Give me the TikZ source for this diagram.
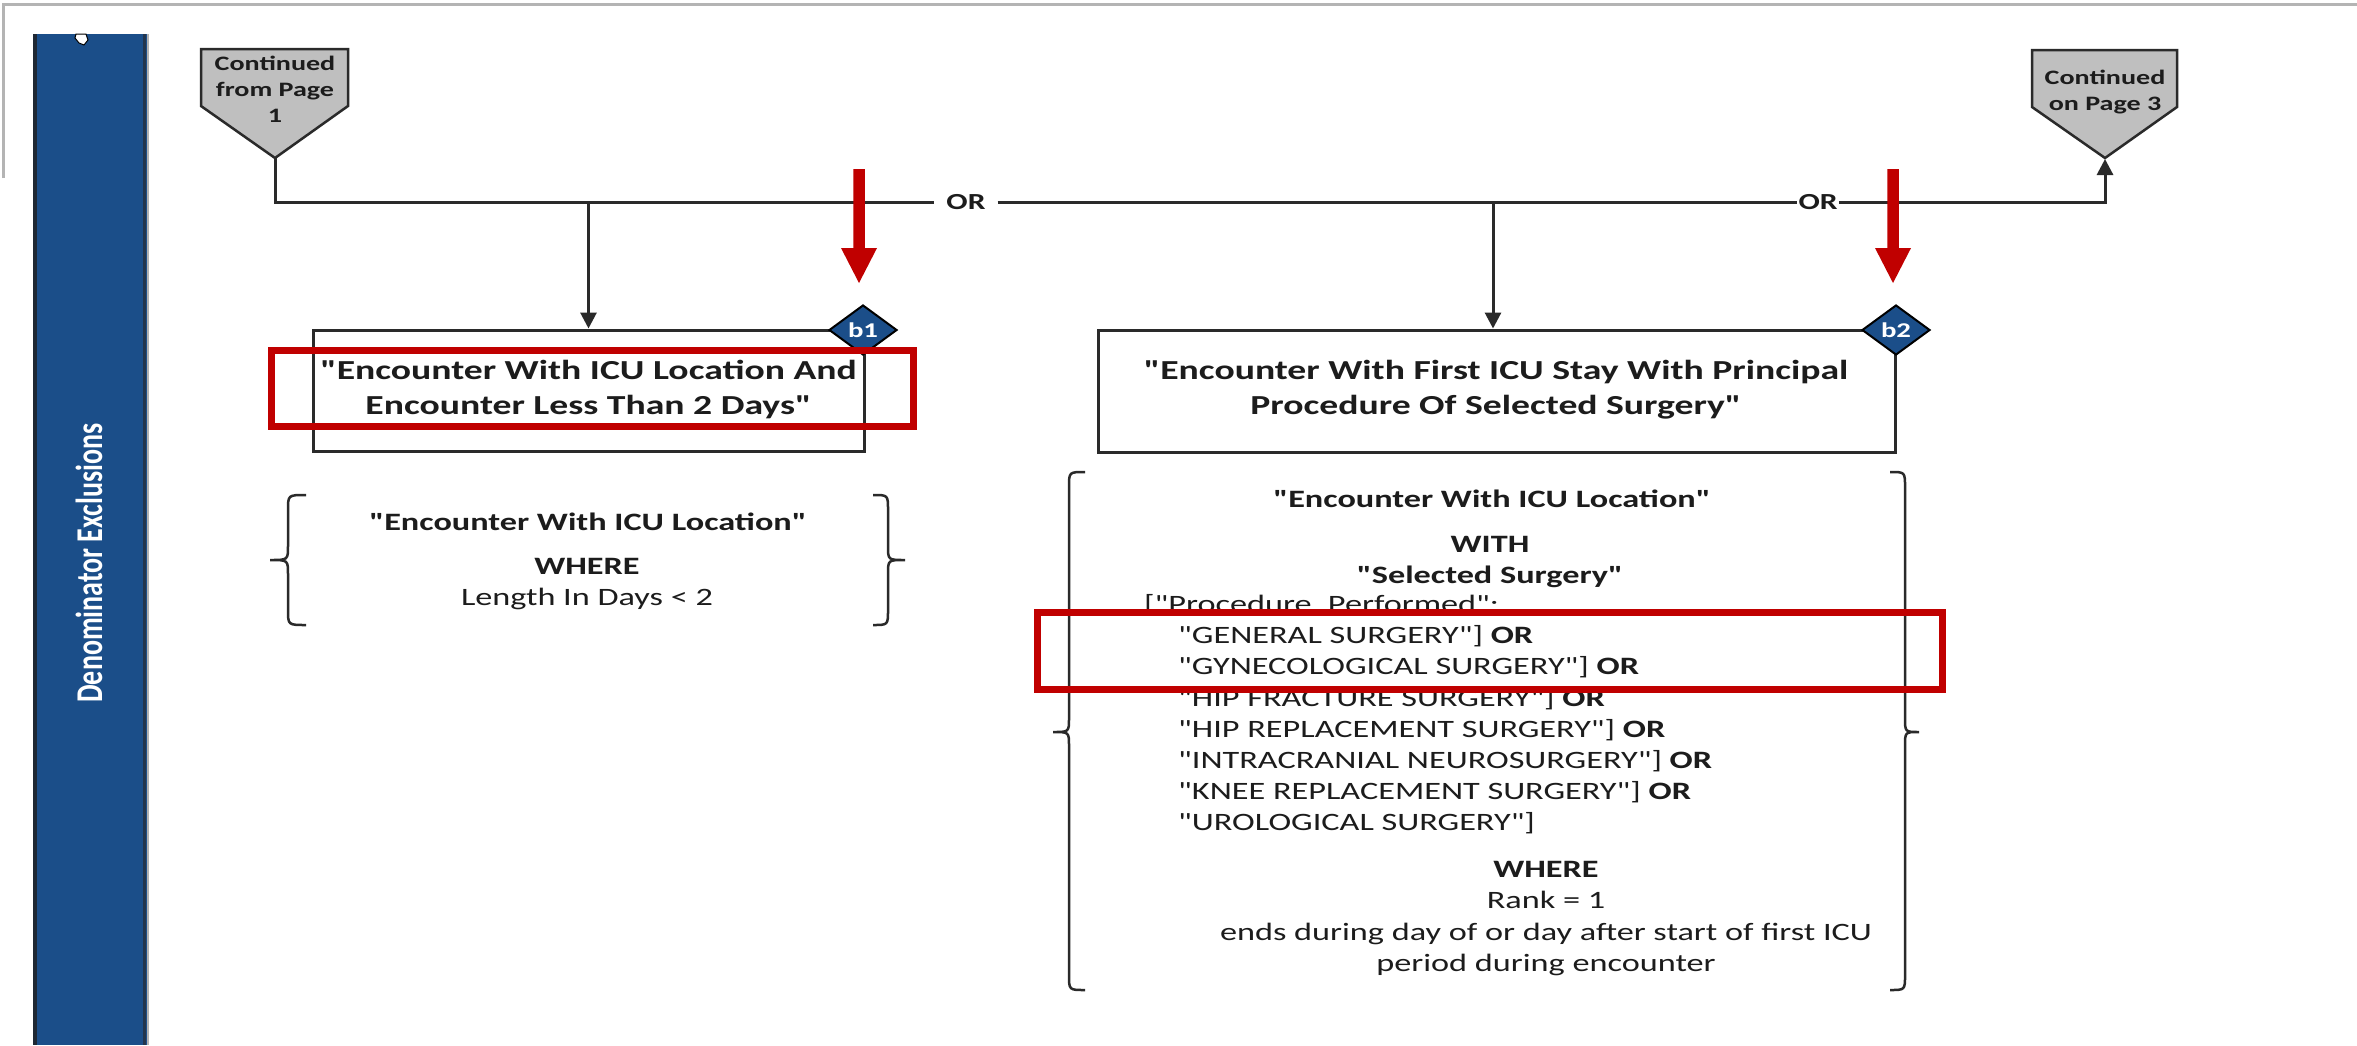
\documentclass[tikz,border=0pt]{standalone}
\usepackage{fontspec}
\setmainfont{Carlito}[FakeStretch=1.37, Ligatures=TeXOff]
\newfontfamily\barfont{Carlito}[FakeStretch=0.74]
\usetikzlibrary{arrows.meta,shapes.geometric}

\definecolor{barblue}{HTML}{1B4E89}
\definecolor{baredge}{HTML}{1E2834}
\definecolor{baredgeright}{HTML}{23354C}
\definecolor{ink}{HTML}{1C1C1C}
\definecolor{linegray}{HTML}{2A2A2A}
\definecolor{pagegray}{HTML}{BFBFBF}
\definecolor{markred}{HTML}{C00000}
\definecolor{framegray}{HTML}{B4B4B4}

\tikzset{
  flow/.style={draw=linegray, line width=3pt},
  arrowflow/.style={flow, -{Triangle[width=16pt,length=16pt]}},
  box/.style={draw=linegray, line width=3pt, fill=white, inner sep=0pt},
  boxtitle/.style={font=\fontsize{27.5}{35}\selectfont\bfseries, align=center, text=ink},
  body/.style={font=\fontsize{25}{31}\selectfont, inner sep=0pt, text=ink, text height=16pt, text depth=0pt},
  bodyb/.style={body, font=\fontsize{25}{31}\selectfont\bfseries},
  offpage/.style={draw=linegray, line width=2.5pt, fill=pagegray, line join=miter},
  offtext/.style={font=\fontsize{20.5}{26}\selectfont\bfseries, align=center, text=ink, inner sep=0pt},
  badge/.style={diamond, draw=black, line width=2pt, fill=barblue, minimum width=68pt,
    minimum height=50pt, inner sep=0pt, text=white, font=\fontsize{21}{21}\selectfont\bfseries},
  bracepath/.style={draw=linegray, line width=2.5pt},
  redbox/.style={draw=markred, line width=7pt},
  orlabel/.style={font=\fontsize{23}{23}\selectfont\bfseries, text=ink, text height=15pt, text depth=0pt, inner ysep=0pt},
}

\begin{document}
\begin{tikzpicture}[x=1pt, y=-1pt]
\useasboundingbox (0,0) rectangle (2357,1045);
\fill[white] (0,0) rectangle (2357,1045);

% page frame
\draw[framegray, line width=3pt] (3,178) -- (3,4) -- (2357,4);

% swimlane bar
\fill[barblue] (33,34) rectangle (148,1045);
\draw[baredge, line width=4pt] (35,34) -- (35,1045);
\draw[baredgeright, line width=3pt] (144.5,34) -- (144.5,1045);
\draw[framegray, line width=2pt] (148,34) -- (148,1045);
\filldraw[fill=white, draw=black, line width=1pt] (76,34) -- (86,34) -- (88,40) -- (84,45) -- (79,43) -- (75,38) -- cycle;
\node[rotate=90, font=\barfont\fontsize{37.8}{40}\selectfont\bfseries, text=white] (lane) at (89,563) {Denominator Exclusions};

% off-page connectors
\draw[offpage] (201,49) -- (348,49) -- (348,106) -- (275,158) -- (201,106) -- cycle;
\coordinate (fromtip) at (275,158);
\node[offtext] (frompage) at (275,89) {Continued\\from Page\\1};

\draw[offpage] (2032,50) -- (2177,50) -- (2177,107) -- (2105,158) -- (2032,107) -- cycle;
\coordinate (totip) at (2105,159);
\node[offtext] (topage) at (2105,92) {Continued\\on Page 3};

% OR labels on the trunk line
\node[orlabel, inner xsep=12pt] (or1) at (966,202) {OR};
\node[orlabel, inner xsep=1pt] (or2) at (1818,202) {OR};

% trunk line
\draw[flow] (fromtip) |- (or1.west);
\draw[flow] (or1.east) -- (or2.west);
\draw[arrowflow] (or2.east) -| (totip);

% boxes
\coordinate (j1) at (588.5,202);
\coordinate (j2) at (1493,202);
\node[box, minimum width=551pt, minimum height=121pt] (b1box) at (588.5,390.5) {};
\node[boxtitle] (b1text) at (588.5,389.5) {"Encounter With ICU Location And\\Encounter Less Than 2 Days"};
\node[box, minimum width=797pt, minimum height=122pt] (b2box) at (1496.5,391) {};
\node[boxtitle] (b2text) at (1496,390) {"Encounter With First ICU Stay With Principal\\Procedure Of Selected Surgery"};
\draw[arrowflow] (j1) -- (j1 |- b1box.north);
\draw[arrowflow] (j2) -- (j2 |- b2box.north);

\node[badge] (b1tag) at (863,330) {b1};
\node[badge] (b2tag) at (1896,330) {b2};

% definition braces
\draw[bracepath] (306,495) .. controls (288,495) .. (288,510) -- (288,546)
  .. controls (288,560) .. (270,560) .. controls (288,560) .. (288,574)
  -- (288,610) .. controls (288,625) .. (306,625);
\draw[bracepath] (873,495) .. controls (888,495) .. (888,510) -- (888,546)
  .. controls (888,560) .. (905,560) .. controls (888,560) .. (888,574)
  -- (888,610) .. controls (888,625) .. (873,625);

\draw[bracepath] (1085,472) .. controls (1069,472) .. (1069,487) -- (1069,718)
  .. controls (1069,732) .. (1053,732) .. controls (1069,732) .. (1069,746)
  -- (1069,975) .. controls (1069,990) .. (1085,990);
\draw[bracepath] (1890,472) .. controls (1905,472) .. (1905,487) -- (1905,718)
  .. controls (1905,732) .. (1919,732) .. controls (1905,732) .. (1905,746)
  -- (1905,975) .. controls (1905,990) .. (1890,990);

% left definition
\node[bodyb] (g1name) at (588,522) {"Encounter With ICU Location"};
\node[bodyb] (g1where) at (587,566) {WHERE};
\node[body] (g1cond) at (587,597) {Length In Days < 2};

% right definition
\node[bodyb] (g2name) at (1492,499) {"Encounter With ICU Location"};
\node[bodyb] (g2with) at (1490,544) {WITH};
\node[bodyb] (g2sel) at (1490,575) {"Selected Surgery"};
\node[body, anchor=west] (g2proc) at (1144,604) {["Procedure, Performed":};
\node[body, anchor=west] (s1) at (1178,635) {"GENERAL SURGERY"] \textbf{OR}};
\node[body, anchor=west] (s2) at (1178,666) {"GYNECOLOGICAL SURGERY"] \textbf{OR}};
\node[body, anchor=west] (s3) at (1178,698) {"HIP FRACTURE SURGERY"] \textbf{OR}};
\node[body, anchor=west] (s4) at (1178,729) {"HIP REPLACEMENT SURGERY"] \textbf{OR}};
\node[body, anchor=west] (s5) at (1178,760) {"INTRACRANIAL NEUROSURGERY"] \textbf{OR}};
\node[body, anchor=west] (s6) at (1178,791) {"KNEE REPLACEMENT SURGERY"] \textbf{OR}};
\node[body, anchor=west] (s7) at (1178,822) {"UROLOGICAL SURGERY"]};
\node[bodyb] (g2where) at (1546,869) {WHERE};
\node[body] (g2rank) at (1546,900) {Rank = 1};
\node[body] (g2ends) at (1546,932) {ends during day of or day after start of first ICU};
\node[body] (g2period) at (1546,963) {period during encounter};

% highlight frames
\draw[redbox] (271.5,350.5) rectangle (913.5,426.5);
\draw[redbox] (1037.5,612.5) rectangle (1942.5,689.5);

% pointer arrows
\fill[markred] (853.25,169) -- (864.75,169) -- (864.75,248) -- (877,248) -- (859,283)
  -- (841,248) -- (853.25,248) -- cycle;
\fill[markred] (1887.25,169) -- (1898.75,169) -- (1898.75,248) -- (1911,248) -- (1893,283)
  -- (1875,248) -- (1887.25,248) -- cycle;
\end{tikzpicture}
\end{document}
